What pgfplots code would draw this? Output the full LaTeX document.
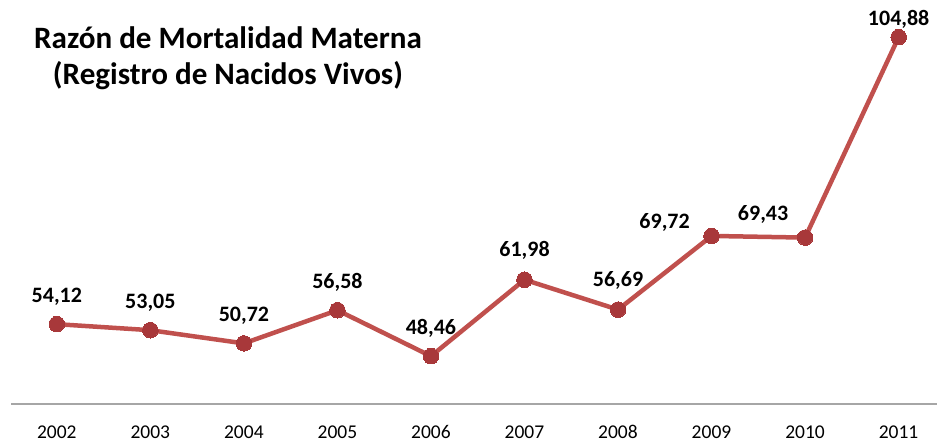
\documentclass[border=0pt]{standalone}
\usepackage{pgfplots}
\pgfplotsset{compat=1.18}
\usepackage{fontspec}
\setmainfont{Carlito}
\definecolor{linered}{HTML}{C0504D}
\definecolor{markred}{HTML}{A8383A}
\definecolor{axisgray}{HTML}{A6A6A6}
\begin{document}
\begin{tikzpicture}
\useasboundingbox (-11pt,-39pt) rectangle (926pt,404pt);
\begin{axis}[
  at={(0pt,0pt)}, anchor=south west,
  scale only axis, width=926pt, height=404pt,
  xmin=2001.51, xmax=2011.41, ymin=40, ymax=111.45,
  axis x line*=bottom, axis y line=none,
  x axis line style={axisgray, line width=1.5pt},
  xtick={2002,...,2011}, ytick=\empty,
  major tick length=0pt,
  /pgf/number format/1000 sep={},
  /pgf/number format/assume math mode=true,
  xticklabel style={font=\fontsize{19.5}{22}\selectfont, yshift=-18pt},
  clip=false,
  nodes near coords,
  point meta=explicit symbolic,
  visualization depends on={value \thisrow{dx} \as \labdx},
  visualization depends on={value \thisrow{dy} \as \labdy},
  every node near coord/.append style={font=\bfseries\fontsize{22}{26}\selectfont, text=black, anchor=base, xshift=\labdx pt, yshift=\labdy pt, inner sep=0pt},
]
\addplot[color=linered, line width=4.5pt, mark=*, mark size=7.8pt,
  mark options={fill=markred, draw=markred, line width=0pt}]
  table[x=x, y=y, meta=label] {
x y label dx dy
2002 54.12 54,12 0 22
2003 53.05 53,05 0 22
2004 50.72 50,72 0 22
2005 56.58 56,58 0 22
2006 48.46 48,46 0 22
2007 61.98 61,98 0 23
2008 56.69 56,69 0 23
2009 69.72 69,72 -47 7
2010 69.43 69,43 -42 17
2011 104.88 104,88 0 12
};
\end{axis}
\node[anchor=base, align=center, inner sep=0pt, font=\bfseries\fontsize{31.1}{36}\selectfont] at (217pt,319pt) {Razón de Mortalidad Materna\\(Registro de Nacidos Vivos)};
\end{tikzpicture}
\end{document}
